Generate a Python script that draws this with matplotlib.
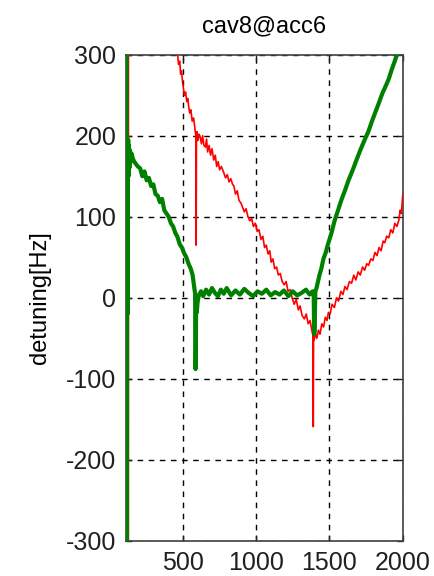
import numpy as np
import matplotlib.pyplot as plt

# green trace (cav8 detuning, thick)
green_x = [118, 118, 121, 123, 125, 127, 129, 131, 134, 137, 141, 146, 152, 160, 170, 182,
           195, 210, 225, 240, 255, 270, 285, 300, 315, 330, 345, 360, 375, 390, 405, 420,
           435, 450, 465, 480, 495, 510, 525, 540, 555, 568, 578, 585, 588, 590, 592, 596,
           602, 610, 625, 640, 660, 680, 700, 720, 740, 760, 780, 800, 830, 860, 890, 920,
           950, 980, 1010, 1040, 1070, 1100, 1130, 1160, 1190, 1220, 1250, 1280, 1310, 1340,
           1365, 1385, 1393, 1396, 1399, 1404, 1412, 1422, 1432, 1445, 1459, 1475, 1490, 1514,
           1535, 1555, 1582, 1605, 1630, 1655, 1680, 1710, 1740, 1765, 1790, 1815, 1836, 1860,
           1885, 1904, 1925, 1945, 1960, 1980, 2000]
green_y = [1000, -1000, -30, 185, -20, 175, 195, 150, 188, 160, 182, 168, 178, 172, 168, 165,
           162, 160, 150, 156, 145, 148, 138, 140, 128, 126, 118, 122, 108, 104, 100, 92,
           88, 80, 75, 66, 62, 55, 50, 42, 36, 28, 14, 5, -88, -60, 2, -18,
           -5, 3, 8, 2, 10, 4, 12, 6, 2, 10, 5, 12, 3, 9, 4, 11,
           6, 2, 8, 5, 10, 3, 7, 4, 9, 2, 8, 3, 6, 10,
           4, 8, 2, -45, -40, 8, 12, 20, 28, 36, 48, 56, 66, 80,
           95, 106, 121, 132, 145, 156, 168, 182, 195, 205, 218, 230, 240, 252,
           262, 270, 282, 292, 300, 312, 325]

# red trace (thin)
red_x = [130, 131, 250, 400, 450, 466, 472, 480, 486, 492, 500, 506, 512, 520, 528, 535,
         541, 548, 556, 565, 575, 584, 590, 592, 594, 598, 604, 612, 620, 628, 636, 645,
         655, 663, 670, 680, 690, 700, 712, 722, 732, 742, 752, 764, 781, 792, 804, 816,
         828, 840, 849, 860, 872, 884, 897, 908, 920, 932, 945, 958, 970, 982, 995, 1008,
         1020, 1034, 1046, 1058, 1070, 1082, 1094, 1103, 1115, 1127, 1140, 1152, 1165, 1178,
         1192, 1205, 1218, 1232, 1246, 1260, 1274, 1288, 1300, 1314, 1329, 1342, 1355, 1368,
         1380, 1387, 1390, 1392, 1396, 1404, 1414, 1425, 1436, 1448, 1460, 1472, 1484, 1493,
         1505, 1518, 1534, 1548, 1562, 1578, 1592, 1606, 1620, 1636, 1651, 1666, 1680, 1696,
         1710, 1726, 1740, 1754, 1767, 1782, 1796, 1810, 1824, 1838, 1852, 1866, 1877, 1890,
         1904, 1918, 1932, 1946, 1960, 1973, 1982, 1990, 1996, 2000]
red_y = [-1000, 1000, 900, 420, 330, 300, 288, 292, 276, 280, 265, 258, 250, 254, 242, 246,
         236, 228, 232, 218, 222, 208, 200, 65, 198, 205, 194, 202, 198, 190, 200, 188,
         186, 196, 180, 188, 176, 184, 170, 176, 162, 168, 158, 162, 154, 148, 152, 143,
         147, 140, 138, 128, 132, 120, 117, 112, 106, 110, 100, 95, 98, 88, 92, 82,
         84, 72, 76, 62, 65, 54, 58, 44, 48, 36, 38, 28, 30, 20,
         16, 20, 8, 10, 0, -8, -2, -15, -10, -22, -26, -20, -32, -28,
         -40, -46, -159, -48, -52, -44, -50, -40, -45, -32, -36, -24, -28, -18,
         -20, -8, -12, 0, -4, 8, 4, 14, 10, 20, 18, 28, 22, 32,
         28, 38, 34, 42, 40, 48, 46, 56, 52, 62, 58, 70, 68, 76,
         74, 84, 80, 92, 88, 96, 108, 104, 118, 128]

xticks = [500, 1000, 1500, 2000]
yticks = [-300, -200, -100, 0, 100, 200, 300]

plt.rcParams['font.family'] = ['Liberation Sans', 'DejaVu Sans']
plt.rcParams['axes.unicode_minus'] = False

fig = plt.figure(figsize=(4.35, 5.76), dpi=100)
ax = fig.add_axes([0.290, 0.061, 0.636, 0.844])

ax.plot(red_x, red_y, color='red', lw=1.2, zorder=3)
ax.plot(green_x, green_y, color='green', lw=3.0, zorder=4)

ax.set_xlim(115, 2000)
ax.set_ylim(-300, 300)
ax.set_xticks(xticks)
ax.set_yticks(yticks)
ax.grid(True, color='black', linestyle=(0, (4, 4)), lw=1.0)
ax.set_axisbelow(True)
ax.tick_params(direction='in', length=4, width=1, top=True, right=True,
               labelsize=18, colors='#202020', pad=7)
for s in ax.spines.values():
    s.set_color('#404040')
    s.set_linewidth(1.2)

ax.set_title('cav8@acc6', fontsize=17, pad=16)
ax.set_ylabel('detuning[Hz]', fontsize=17, labelpad=11)

fig.savefig('out.png', dpi=100)
